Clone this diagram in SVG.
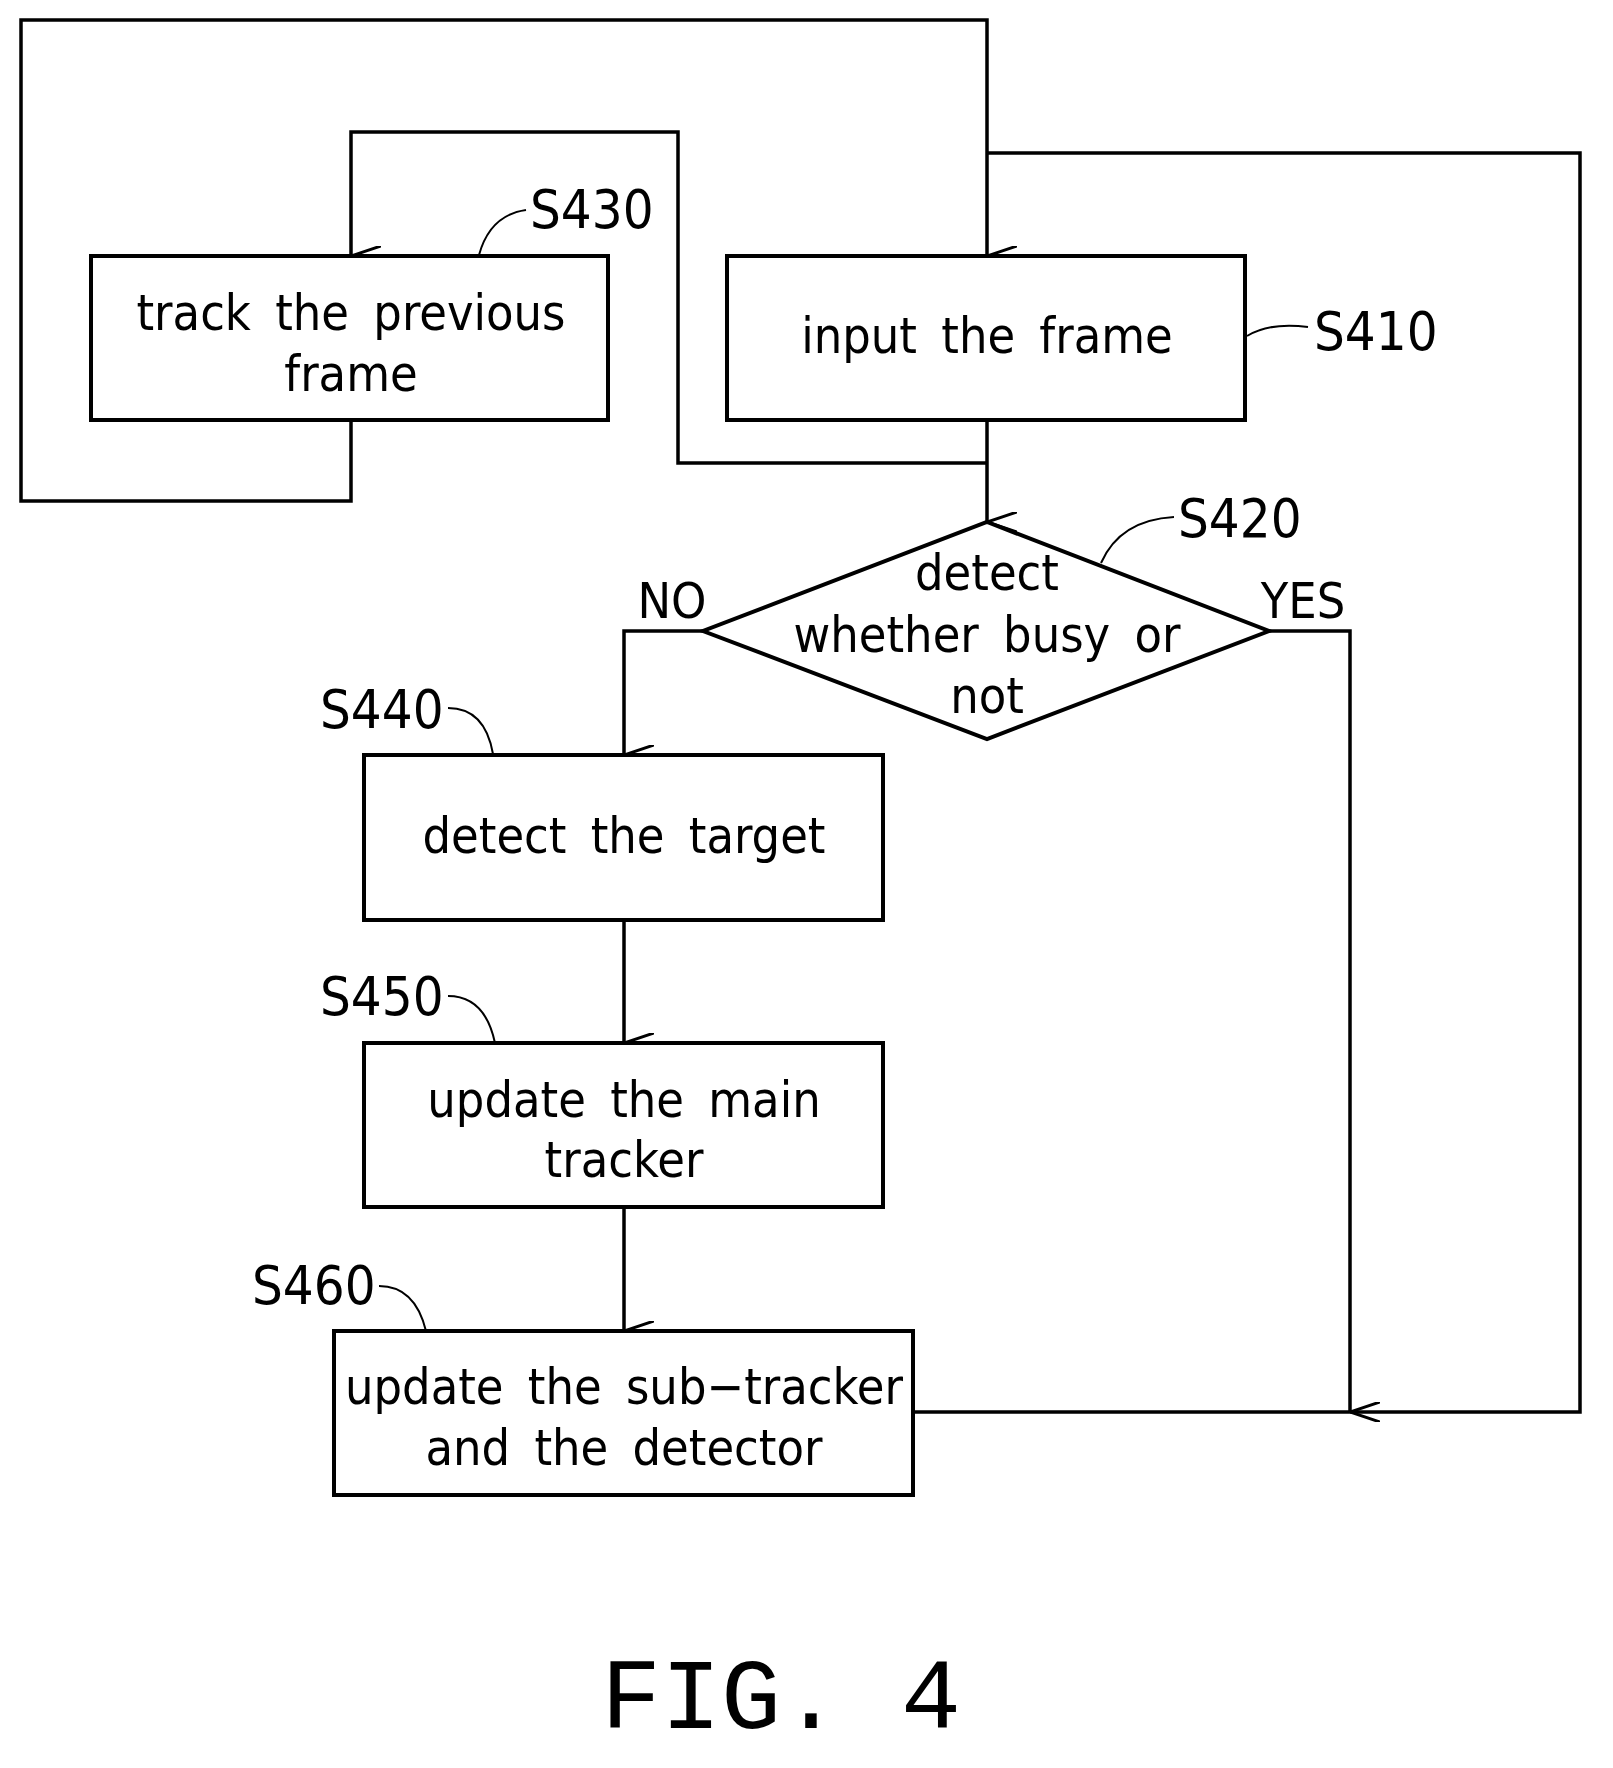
<svg xmlns="http://www.w3.org/2000/svg" width="1613" height="1768" viewBox="0 0 1613 1768">
<defs><marker id="a" viewBox="0 0 20 30" refX="10" refY="30" markerWidth="20" markerHeight="30" markerUnits="userSpaceOnUse" orient="auto-start-reverse"><path d="M0,0 L10,30 L20,0" fill="none" stroke="#000" stroke-width="3"/></marker></defs>
<style>
.b{fill:#fff;stroke:#000;stroke-width:4}
.c{fill:none;stroke:#000;stroke-width:3.5}
.l{fill:none;stroke:#000;stroke-width:2}
text{font-family:"DejaVu Sans Condensed","DejaVu Sans",sans-serif;font-stretch:condensed;font-size:50px;fill:#000;text-anchor:middle;word-spacing:10px}
.s{font-size:54px;text-anchor:start}
</style>
<rect width="1613" height="1768" fill="#fff"/>
<g id="connectors">
<path class="c" d="M351,420 V501 H21 V20 H987 V256" marker-end="url(#a)"/>
<path class="c" d="M987,463 H678 V132 H351 V256" marker-end="url(#a)"/>
<path class="c" d="M987,420 V522" marker-end="url(#a)"/>
<path class="c" d="M913,1412 H1580 V153 H987"/>
<path class="c" d="M703,631 H624 V755" marker-end="url(#a)"/>
<path class="c" d="M1269,631 H1350 V1412" marker-end="url(#a)"/>
<path class="c" d="M624,920 V1043" marker-end="url(#a)"/>
<path class="c" d="M624,1207 V1331" marker-end="url(#a)"/>
<path class="l" d="M479,255 Q490,215 526,210"/>
<path class="l" d="M1247,336 Q1270,322 1308,327"/>
<path class="l" d="M1101,563 Q1120,520 1174,517"/>
<path class="l" d="M448,708 Q485,708 493,754"/>
<path class="l" d="M448,996 Q485,996 495,1043"/>
<path class="l" d="M379,1286 Q415,1286 426,1331"/>
</g>
<g id="S430"><rect class="b" x="91" y="256" width="517" height="164"/><text x="351" y="330">track the previous</text><text x="351" y="391">frame</text><text class="s" x="530" y="228">S430</text></g>
<g id="S410"><rect class="b" x="727" y="256" width="518" height="164"/><text x="987" y="353">input the frame</text><text class="s" x="1314" y="350">S410</text></g>
<g id="S420"><polygon class="b" points="987,522 1269,631 987,739 703,631"/><text x="987" y="590">detect</text><text x="987" y="652">whether busy or</text><text x="987" y="713">not</text><text class="s" x="1178" y="537">S420</text><text x="672" y="618">NO</text><text x="1303" y="618">YES</text></g>
<g id="S440"><rect class="b" x="364" y="755" width="519" height="165"/><text x="624" y="853">detect the target</text><text class="s" x="320" y="728">S440</text></g>
<g id="S450"><rect class="b" x="364" y="1043" width="519" height="164"/><text x="624" y="1117">update the main</text><text x="624" y="1177">tracker</text><text class="s" x="320" y="1015">S450</text></g>
<g id="S460"><rect class="b" x="334" y="1331" width="579" height="164"/><text x="624" y="1404">update the sub−tracker</text><text x="624" y="1465">and the detector</text><text class="s" x="252" y="1304">S460</text></g>
<text x="781" y="1728" style="font-family:'Liberation Mono',monospace;font-size:100px;font-stretch:normal;word-spacing:0">FIG. 4</text>
</svg>
